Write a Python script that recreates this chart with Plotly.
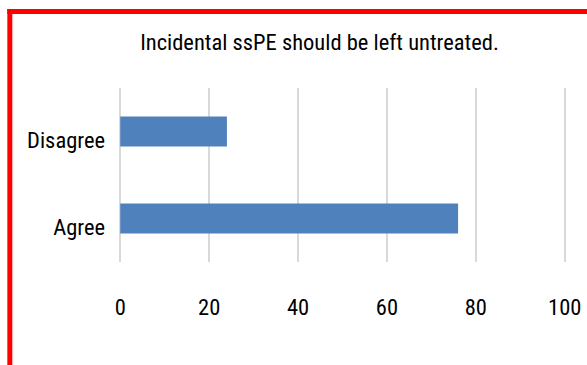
import plotly.graph_objects as go

categories = ["Agree", "Disagree"]
values = [76, 24]
x_ticks = [0, 20, 40, 60, 80, 100]
title_text = "Incidental ssPE should be left untreated."

W, H = 587, 365
X0_PX, X100_PX = 120, 565          # pixel positions of 0 and 100
PAD = 0.5                            # small range padding so edge gridlines show
upx = (X100_PX - X0_PX) / 100.0
L = X0_PX - PAD * upx
R = W - (X100_PX + PAD * upx)
T, B = 88, 103
pw, ph = W - L - R, H - T - B

def px_to_paper_x(px):
    return (px - L) / pw

def px_to_paper_y(py):
    return (H - B - py) / ph

FONT = "Roboto Condensed"
FS = 22.5

fig = go.Figure()
fig.add_trace(go.Bar(
    y=categories,
    x=values,
    orientation="h",
    marker=dict(color="#4F81BD", line=dict(width=0)),
    hoverinfo="skip",
))

fig.update_layout(
    width=W, height=H,
    margin=dict(l=L, r=R, t=T, b=B, pad=0, autoexpand=False),
    paper_bgcolor="white",
    plot_bgcolor="white",
    showlegend=False,
    bargap=0.655,
    font=dict(family=FONT, size=FS, color="#000000"),
    title=dict(
        text=title_text,
        x=319.5 / W, xref="container", xanchor="center",
        y=1 - 42 / H, yref="container", yanchor="middle",
        font=dict(family=FONT, size=FS, color="#000000"),
    ),
    xaxis=dict(
        range=[-PAD, 100 + PAD],
        tickvals=x_ticks,
        ticktext=[str(v) for v in x_ticks],
        showgrid=True, gridcolor="#D9D9D9", gridwidth=1.5,
        zeroline=False, showline=False,
        ticks="", ticklabelstandoff=29,
        tickfont=dict(family=FONT, size=FS, color="#000000"),
        fixedrange=True, automargin=False,
    ),
    yaxis=dict(
        categoryorder="array", categoryarray=categories,
        showgrid=False, zeroline=False, showline=False,
        ticks="", ticklabelstandoff=12, ticklabelshift=9,
        tickfont=dict(family=FONT, size=FS, color="#000000"),
        fixedrange=True, automargin=False,
    ),
    shapes=[
        dict(type="line", xref="paper", yref="paper",
             x0=px_to_paper_x(9.5), x1=px_to_paper_x(9.5),
             y0=px_to_paper_y(9), y1=px_to_paper_y(380),
             line=dict(color="#FF0000", width=5)),
        dict(type="line", xref="paper", yref="paper",
             x0=px_to_paper_x(7), x1=px_to_paper_x(600),
             y0=px_to_paper_y(11.5), y1=px_to_paper_y(11.5),
             line=dict(color="#FF0000", width=5)),
    ],
)

fig.write_html("out.html", config={"displayModeBar": False})
